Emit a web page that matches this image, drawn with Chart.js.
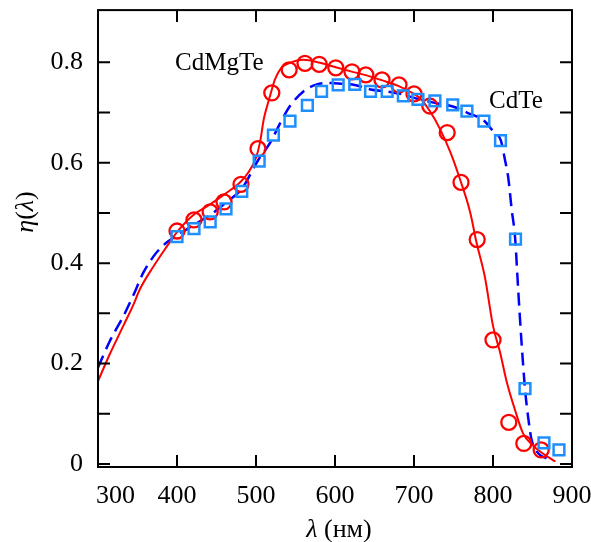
<!DOCTYPE html>
<html>
<head>
<meta charset="utf-8">
<script src="https://cdn.jsdelivr.net/npm/chart.js@4/dist/chart.umd.min.js"></script>
<style>
  html, body { margin: 0; padding: 0; background: #ffffff; }
  #wrap { width: 591px; height: 542px; }
</style>
</head>
<body>
<div id="wrap"><canvas id="c" width="591" height="542"></canvas></div>
<script>
// ---- Data ----
const xTicks = [300, 400, 500, 600, 700, 800, 900];
const xTickLabels = ['300', '400', '500', '600', '700', '800', '900'];
const yTicks = [0, 0.1, 0.2, 0.3, 0.4, 0.5, 0.6, 0.7, 0.8];
const yTickLabels = ['0', '', '0.2', '', '0.4', '', '0.6', '', '0.8'];

// CdMgTe measured points (circles)
const cdmgteLambda = [400, 421.5, 442, 459.5, 481, 502.5, 520, 542, 562, 580, 601, 621.5, 639, 659.5, 681, 700, 720, 742, 759.5, 780, 800, 820, 839, 861];
const cdmgteEta    = [0.464, 0.486, 0.502, 0.522, 0.557, 0.628, 0.739, 0.785, 0.798, 0.796, 0.789, 0.781, 0.775, 0.765, 0.755, 0.737, 0.713, 0.660, 0.561, 0.447, 0.247, 0.083, 0.041, 0.028];

// CdTe measured points (squares)
const cdteLambda = [400, 421.5, 442, 462, 482, 504, 522, 543, 565, 583, 604, 625, 645, 666, 686.5, 705, 726.5, 749, 767, 788.5, 809.5, 828.5, 840.5, 864.5, 883.5];
const cdteEta    = [0.453, 0.469, 0.482, 0.508, 0.543, 0.603, 0.655, 0.683, 0.714, 0.742, 0.755, 0.756, 0.742, 0.742, 0.733, 0.726, 0.723, 0.715, 0.703, 0.683, 0.644, 0.448, 0.150, 0.042, 0.028];

// CdMgTe calculated curve (solid red)
const cdmgteFitLambda = [300, 315, 332, 345, 353, 370, 387, 400, 420, 440, 460, 480, 490, 500, 505, 510, 515, 519, 524, 532, 543, 560, 581, 601, 620, 640, 660, 680, 700, 708, 720, 733, 746, 758, 771, 779, 790, 800, 809, 817, 828, 838, 851, 864, 879];
const cdmgteFitEta    = [0.165, 0.219, 0.275, 0.318, 0.348, 0.393, 0.433, 0.462, 0.495, 0.515, 0.537, 0.561, 0.580, 0.610, 0.640, 0.688, 0.718, 0.740, 0.766, 0.789, 0.799, 0.805, 0.799, 0.790, 0.782, 0.774, 0.764, 0.753, 0.737, 0.728, 0.703, 0.667, 0.621, 0.568, 0.502, 0.442, 0.370, 0.275, 0.222, 0.166, 0.107, 0.061, 0.036, 0.020, 0.005];

// CdTe calculated curve (dashed blue)
const cdteFitLambda = [300, 315, 332, 345, 357, 370, 383, 400, 421, 442, 463, 482, 503, 518, 530, 543, 560, 577, 594, 610, 625, 645, 666, 686, 705, 727, 749, 767, 789, 800, 810, 815, 819.5, 823.5, 828, 832, 836, 840.5, 845, 849, 857.5, 868, 876];
const cdteFitEta    = [0.192, 0.245, 0.294, 0.337, 0.380, 0.413, 0.436, 0.455, 0.476, 0.496, 0.522, 0.548, 0.606, 0.640, 0.677, 0.713, 0.742, 0.756, 0.759, 0.757, 0.755, 0.746, 0.742, 0.736, 0.727, 0.719, 0.712, 0.700, 0.683, 0.663, 0.644, 0.607, 0.568, 0.509, 0.450, 0.344, 0.245, 0.150, 0.087, 0.047, 0.021, 0.011, 0.005];

const toXY = (xs, ys) => xs.map((x, i) => ({ x: x, y: ys[i] }));

const SERIF = "'Liberation Serif', 'DejaVu Serif', serif";

const framePlugin = {
  id: 'frame',
  afterDraw(chart) {
    const ctx = chart.ctx;
    const a = chart.chartArea;
    const xs = chart.scales.x, ys = chart.scales.y;
    const TL = 12;
    ctx.save();
    ctx.strokeStyle = '#000';
    ctx.lineWidth = 2;
    ctx.strokeRect(a.left, a.top, a.right - a.left, a.bottom - a.top);
    ctx.beginPath();
    xTicks.forEach(v => {
      const px = xs.getPixelForValue(v);
      if (px <= a.left + 2 || px >= a.right - 2) return;
      ctx.moveTo(px, a.bottom); ctx.lineTo(px, a.bottom - TL);
      ctx.moveTo(px, a.top); ctx.lineTo(px, a.top + TL);
    });
    yTicks.forEach(v => {
      const py = ys.getPixelForValue(v);
      if (py >= a.bottom - 2 || py <= a.top + 2) return;
      ctx.moveTo(a.left, py); ctx.lineTo(a.left + TL, py);
      ctx.moveTo(a.right, py); ctx.lineTo(a.right - TL, py);
    });
    ctx.stroke();

    ctx.fillStyle = '#000';
    ctx.textBaseline = 'alphabetic';
    // first x tick label sits just inside the left edge
    ctx.font = "26px " + SERIF;
    ctx.textAlign = 'left';
    ctx.fillText(xTickLabels[0], xs.getPixelForValue(xTicks[0]) - 2, 503);

    // x-axis title: λ (нм)
    const italic = "italic 26px " + SERIF, normal = "26px " + SERIF;
    ctx.font = italic; const w1 = ctx.measureText('λ').width;
    ctx.font = normal; const w2 = ctx.measureText(' (нм)').width;
    let sx = 339 - (w1 + w2) / 2;
    ctx.font = italic; ctx.fillText('λ', sx, 537);
    ctx.font = normal; ctx.fillText(' (нм)', sx + w1, 537);

    // y-axis title: η(λ)
    ctx.save();
    ctx.translate(33, 212);
    ctx.rotate(-Math.PI / 2);
    const parts = [['η', italic], ['(', normal], ['λ', italic], [')', normal]];
    let tw = 0;
    parts.forEach(p => { ctx.font = p[1]; tw += ctx.measureText(p[0]).width; });
    let cx = -tw / 2;
    parts.forEach(p => { ctx.font = p[1]; ctx.fillText(p[0], cx, 0); cx += ctx.measureText(p[0]).width; });
    ctx.restore();

    // series labels
    ctx.font = "25px " + SERIF;
    ctx.textAlign = 'left';
    ctx.fillText('CdMgTe', xs.getPixelForValue(397.5), ys.getPixelForValue(0.785));
    ctx.fillText('CdTe', xs.getPixelForValue(795), ys.getPixelForValue(0.709));
    ctx.restore();
  }
};

const zeroPad = s => { s.paddingLeft = 0; s.paddingRight = 0; s.paddingTop = 0; s.paddingBottom = 0; };

new Chart(document.getElementById('c'), {
  type: 'scatter',
  data: {
    datasets: [
      {
        label: 'CdTe data',
        data: toXY(cdteLambda, cdteEta),
        pointStyle: 'rect',
        pointRadius: 7.6,
        pointBorderWidth: 2.5,
        borderColor: '#1e8fff',
        backgroundColor: 'rgba(0,0,0,0)',
        order: 0
      },
      {
        label: 'CdMgTe data',
        data: toXY(cdmgteLambda, cdmgteEta),
        pointStyle: 'circle',
        pointRadius: 7.5,
        pointBorderWidth: 2.3,
        borderColor: '#ff0000',
        backgroundColor: 'rgba(0,0,0,0)',
        order: 1
      },
      {
        label: 'CdMgTe fit',
        data: toXY(cdmgteFitLambda, cdmgteFitEta),
        showLine: true,
        pointRadius: 0,
        borderColor: '#ff0000',
        borderWidth: 2,
        cubicInterpolationMode: 'monotone',
        order: 2
      },
      {
        label: 'CdTe fit',
        data: toXY(cdteFitLambda, cdteFitEta),
        showLine: true,
        pointRadius: 0,
        borderColor: '#0000ff',
        borderWidth: 2.5,
        borderDash: [13, 7],
        cubicInterpolationMode: 'monotone',
        order: 3
      }
    ]
  },
  options: {
    responsive: false,
    animation: false,
    events: [],
    layout: { padding: { top: 7, right: 19, left: 0, bottom: 0 } },
    plugins: { legend: { display: false }, tooltip: { enabled: false } },
    scales: {
      x: {
        type: 'linear',
        min: 300, max: 900,
        afterBuildTicks: s => { s.ticks = xTicks.map(v => ({ value: v })); },
        afterFit: s => { s.height = 75; zeroPad(s); },
        grid: { display: false, drawTicks: false },
        border: { display: false },
        ticks: {
          padding: 14,
          color: '#000',
          font: { family: SERIF, size: 26 },
          maxRotation: 0,
          autoSkip: false,
          callback: (v) => { const i = xTicks.indexOf(v); return i > 0 ? xTickLabels[i] : ''; }
        }
      },
      y: {
        type: 'linear',
        min: -0.006, max: 0.904,
        afterBuildTicks: s => { s.ticks = yTicks.map(v => ({ value: v })); },
        afterFit: s => { s.width = 98; zeroPad(s); },
        grid: { display: false, drawTicks: false },
        border: { display: false },
        ticks: {
          padding: 15,
          color: '#000',
          font: { family: SERIF, size: 26 },
          autoSkip: false,
          callback: (v) => { const i = yTicks.findIndex(t => Math.abs(t - v) < 1e-6); return i >= 0 ? yTickLabels[i] : ''; }
        }
      }
    }
  },
  plugins: [framePlugin]
});
</script>
</body>
</html>
